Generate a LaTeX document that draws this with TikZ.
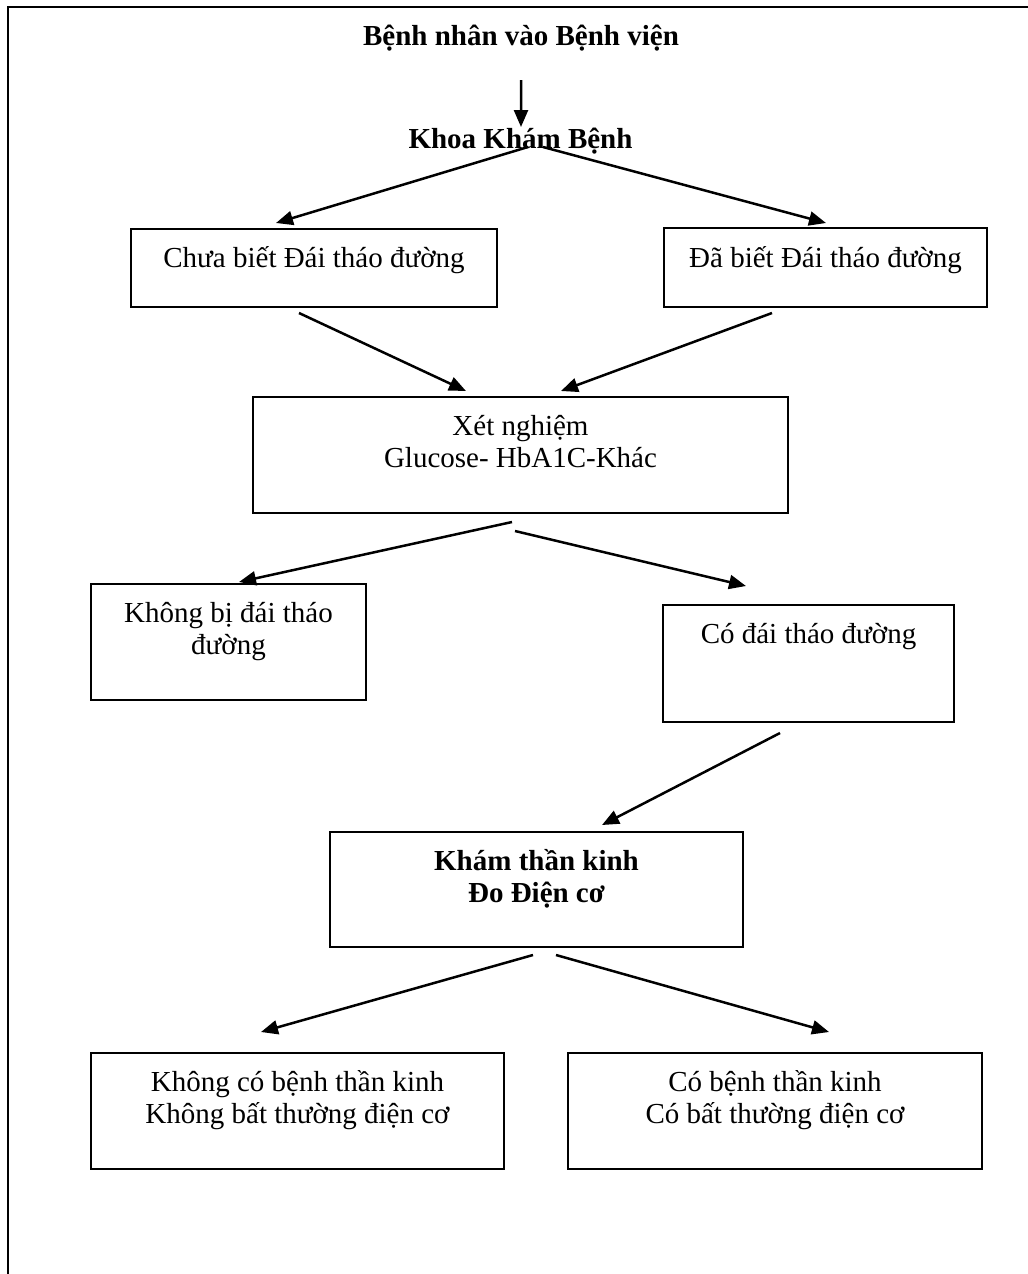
\documentclass[tikz,border=0pt]{standalone}
\usepackage{fontspec}
\setmainfont{Liberation Serif}
\usetikzlibrary{arrows.meta,calc}
\newcommand{\twolines}[2]{\begin{tabular}[t]{@{}c@{}}#1\\#2\end{tabular}}
\begin{document}
\begin{tikzpicture}[x=1bp,y=-1bp,
  box/.style={draw,line width=2.4bp,anchor=north west,inner sep=0pt,outer sep=0pt},
  txt/.style={inner sep=0pt,anchor=base,font=\fontsize{29.1pt}{33.1pt}\selectfont},
  txtb/.style={inner sep=0pt,anchor=base,font=\fontsize{29.1pt}{33.1pt}\selectfont\bfseries},
  arr/.style={line width=2.5bp,-{Triangle[length=17bp,width=14bp]}},
  frame/.style={line width=2.2bp}]
\useasboundingbox (0,0) rectangle (1028,1274);
\draw[frame] (1028,7) -- (8,7) -- (8,1274);

\node[txtb] (title) at (521,45) {Bệnh nhân vào Bệnh viện};
\node[txtb] (khoa) at (520.5,148) {Khoa Khám Bệnh};

\node[box,minimum width=366bp,minimum height=78bp] (chua) at (131,229) {};
\node[box,minimum width=323bp,minimum height=79bp] (da) at (664,228) {};
\node[box,minimum width=535bp,minimum height=116bp] (xet) at (253,397) {};
\node[box,minimum width=275bp,minimum height=116bp] (khongbi) at (91,584) {};
\node[box,minimum width=291bp,minimum height=117bp] (codai) at (663,605) {};
\node[box,minimum width=413bp,minimum height=115bp] (kham) at (330,832) {};
\node[box,minimum width=413bp,minimum height=116bp] (khongco) at (91,1053) {};
\node[box,minimum width=414bp,minimum height=116bp] (cobenh) at (568,1053) {};

\node[txt] (chuaT) at ($(chua.north)+(0,38)$) {Chưa biết Đái tháo đường};
\node[txt] (daT) at ($(da.north)+(0,39)$) {Đã biết Đái tháo đường};
\node[txt] (xetT) at ($(xet.north)+(0,38)$) {\twolines{Xét nghiệm}{Glucose- HbA1C-Khác}};
\node[txt] (khongbiT) at ($(khongbi.north)+(0,38)$) {\twolines{Không bị đái tháo}{đường}};
\node[txt] (codaiT) at ($(codai.north)+(0,38)$) {Có đái tháo đường};
\node[txtb] (khamT) at ($(kham.north)+(0,38)$) {\twolines{Khám thần kinh}{Đo Điện cơ}};
\node[txt] (khongcoT) at ($(khongco.north)+(0,38)$) {\twolines{Không có bệnh thần kinh}{Không bất thường điện cơ}};
\node[txt] (cobenhT) at ($(cobenh.north)+(0,38)$) {\twolines{Có bệnh thần kinh}{Có bất thường điện cơ}};

\draw[arr] ($(title.base)+(0,35)$) -- ($(khoa.base)+(0.5,-21)$);
\draw[arr] ($(khoa.base)+(7.5,-1)$) -- ($(chua.north)+(-38,-6)$);
\draw[arr] ($(khoa.base)+(22.5,-1)$) -- ($(da.north)+(0.5,-5)$);
\draw[arr] ($(chua.south)+(-15,6)$) -- ($(xet.north)+(-54.5,-6)$);
\draw[arr] ($(da.south)+(-53.5,6)$) -- ($(xet.north)+(40.5,-6)$);
\draw[arr] ($(xet.south)+(-8.5,9)$) -- ($(khongbi.north)+(10.5,-2)$);
\draw[arr] ($(xet.south)+(-5.5,18)$) -- ($(codai.north)+(-62.5,-19)$);
\draw[arr] ($(codai.south)+(-28.5,11)$) -- ($(kham.north)+(65.5,-7)$);
\draw[arr] ($(kham.south)+(-3.5,8)$) -- ($(khongco.north)+(-36.5,-21)$);
\draw[arr] ($(kham.south)+(19.5,8)$) -- ($(cobenh.north)+(54,-21)$);
\end{tikzpicture}
\end{document}
